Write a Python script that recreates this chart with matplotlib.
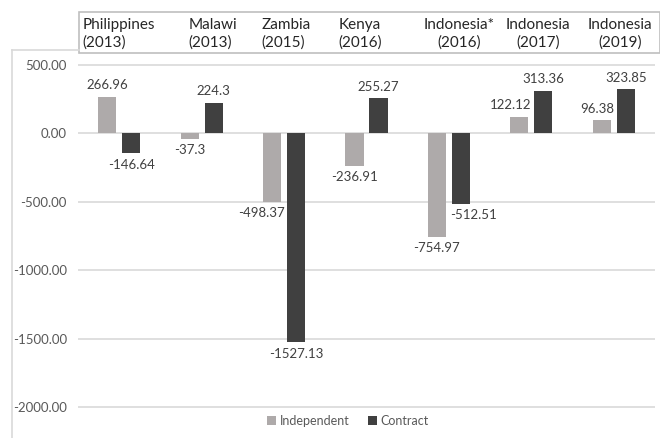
import matplotlib
matplotlib.use('Agg')
import matplotlib.pyplot as plt
import numpy as np
from matplotlib.lines import Line2D
from matplotlib.patches import Rectangle

plt.rcParams['font.family'] = ['Lato', 'DejaVu Sans']

# Data
countries = ["Philippines\n(2013)", "Malawi\n(2013)", "Zambia\n(2015)", "Kenya\n(2016)",
             "Indonesia*\n(2016)", "Indonesia\n(2017)", "Indonesia\n(2019)"]
independent = [266.96, -37.3, -498.37, -236.91, -754.97, 122.12, 96.38]
contract = [-146.64, 224.3, -1527.13, 255.27, -512.51, 313.36, 323.85]
y_ticks = [500, 0, -500, -1000, -1500, -2000]

# label placement tweaks (Excel nudges labels away from neighbouring bars)
ind_align = ['center', 'center', 'right', 'center', 'center', 'right', 'right']
con_align = ['center', 'center', 'center', 'center', 'left', 'center', 'center']
# header text centres in pixels
head_px = [119, 213, 286, 360, 459, 538, 620]

COL_IND = '#aeaaaa'
COL_CON = '#404040'
GRID = '#d9d9d9'
TXT = '#404040'

W, H = 660, 438
fig = plt.figure(figsize=(W / 100, H / 100), dpi=100)
fig.patch.set_facecolor('white')

# axes placed in pixel terms: x 78..655, y 55..438
ax = fig.add_axes([78 / W, 0, 577 / W, (438 - 55) / H])
ppu = (407 - 65) / 2500.0
top_val = 500 + (65 - 55) / ppu
bot_val = -2000 - (438 - 407) / ppu
ax.set_ylim(bot_val, top_val)

x = np.arange(len(countries))
bw = 0.22
off = 0.146
ax.bar(x - off, independent, bw, color=COL_IND, label='Independent', zorder=3)
ax.bar(x + off, contract, bw, color=COL_CON, label='Contract', zorder=3)
ax.set_xlim(-0.5, len(countries) - 0.5)

ax.set_yticks(y_ticks)
ax.set_yticklabels([f"{v:.2f}" for v in y_ticks], fontsize=9.5, color='#595959')
ax.tick_params(axis='y', length=0, pad=8)
ax.set_xticks([])
ax.grid(axis='y', color=GRID, linewidth=1.2, zorder=0)
for s in ax.spines.values():
    s.set_visible(False)

def label(xpos, val, align, gap_x):
    dy = 4 if val >= 0 else -4
    va = 'bottom' if val >= 0 else 'top'
    ax.annotate(f"{val:g}", (xpos, val), xytext=(gap_x, dy), textcoords='offset points',
                ha=align, va=va, fontsize=9.5, color=TXT, zorder=5)

for i in range(len(countries)):
    edge = x[i] + off - bw / 2   # left edge of the contract bar
    if ind_align[i] == 'right':
        label(edge, independent[i], 'right', -2)
    else:
        label(x[i] - off, independent[i], 'center', 0)
    if con_align[i] == 'left':
        label(edge, contract[i], 'left', -1)
    else:
        label(x[i] + off, contract[i], 'center', 0)

# outer chart frame (left and top edges)
fig.add_artist(Line2D([12 / W, 12 / W], [0, 1 - 50 / H], color=GRID, lw=1.2))
fig.add_artist(Line2D([12 / W, 79 / W], [1 - 50 / H, 1 - 50 / H], color=GRID, lw=1.2))
# header box with country names
fig.add_artist(Rectangle((79 / W, 1 - 53 / H), (W - 79) / W, 41 / H, transform=fig.transFigure,
                         facecolor='white', edgecolor='#bfbfbf', lw=1.2, zorder=1))
for i, name in enumerate(countries):
    fig.text(head_px[i] / W, 1 - 33.5 / H, name, zorder=5,
             ha='center', va='center', fontsize=11, color='#262626', linespacing=1.3,
             multialignment='left' if i < 4 else 'center')

fig.legend(loc='center', bbox_to_anchor=(348 / W, 1 - 421 / H), ncol=2, frameon=False,
           fontsize=9, handlelength=0.7, handleheight=0.7, handletextpad=0.3,
           columnspacing=1.5, labelcolor='#595959')

fig.savefig('out.png', dpi=100, facecolor=fig.get_facecolor())
